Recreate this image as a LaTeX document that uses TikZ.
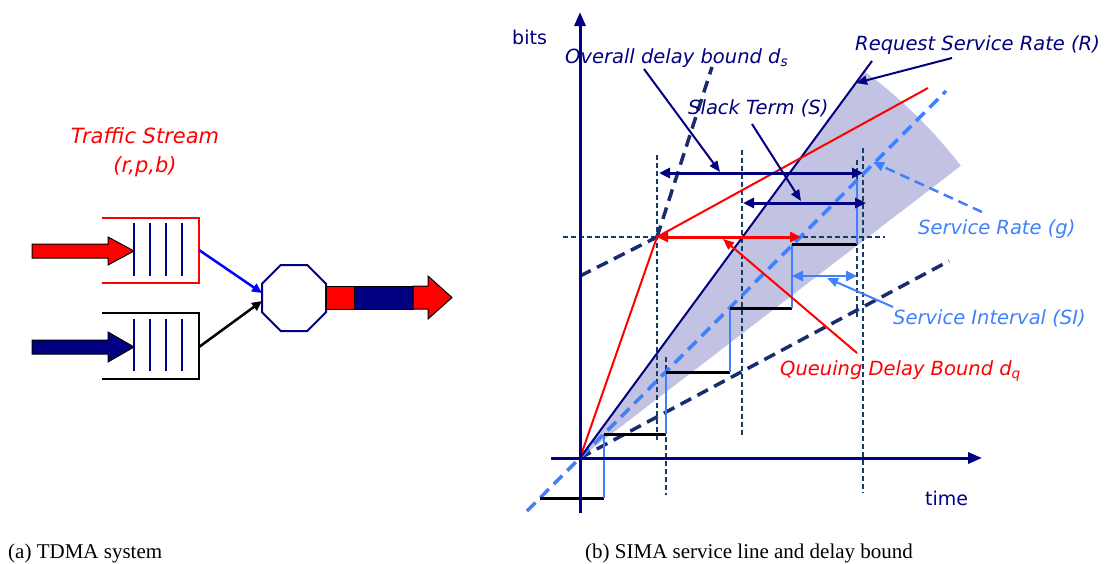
\documentclass[tikz,border=0pt]{standalone}
\usepackage{fontspec}
\setmainfont{Liberation Serif}
\newfontfamily\comic{DejaVu Sans}
\usetikzlibrary{arrows.meta}
\definecolor{navy}{RGB}{0,0,128}
\definecolor{lblue}{RGB}{64,128,255}
\definecolor{dnavy}{RGB}{25,45,110}
\definecolor{vdash}{RGB}{20,60,100}
\definecolor{shadecol}{RGB}{194,194,226}
\begin{document}
\begin{tikzpicture}[x=1pt,y=-1pt,
 axis/.style={navy, line width=3pt, -{Triangle[length=14pt,width=11pt]}},
 rline/.style={red, line width=2pt},
 Rline/.style={navy, line width=2pt},
 thickdash/.style={line width=3.5pt, dash pattern=on 12pt off 7pt},
 guide/.style={vdash, line width=1.4pt, dash pattern=on 5pt off 3pt},
 tread/.style={black, line width=3pt},
 riser/.style={lblue, line width=2pt},
 dbl/.style={line width=3pt, {Triangle[length=11pt,width=10pt]}-{Triangle[length=11pt,width=10pt]}},
 ptr/.style={line width=2pt, -{Triangle[length=11pt,width=9pt]}},
 lbl/.style={font=\comic\itshape\fontsize{19.5}{22}\selectfont, inner sep=0pt, anchor=base west},
 captext/.style={font=\fontsize{21}{24}\selectfont, inner sep=0pt, anchor=base west},
 qline/.style={navy, line width=1.5pt},
 conn/.style={line width=2.5pt, -{Triangle[length=10pt,width=9pt]}},
 block/.style={draw=black, line width=1pt}
]
\useasboundingbox (0,0) rectangle (1108,563);

% ---------------- left: TDMA system ----------------
\node[font=\comic\itshape\fontsize{21}{29}\selectfont, text=red, align=center] (ts) at (145,152) {Traffic Stream\\(r,p,b)};

% queue 1 (red)
\draw[red, line width=1.5pt] (102,218) -- (199,218) -- (199,283) -- (102,283);
\foreach \x in {134,150,166,182} \draw[qline] (\x,223) -- (\x,276);
% queue 2 (black)
\draw[black, line width=1.5pt] (102,313) -- (199,313) -- (199,379) -- (102,379);
\foreach \x in {134,150,166,182} \draw[qline] (\x,319) -- (\x,371);

% input block arrows
\filldraw[block, fill=red] (32,244) -- (108,244) -- (108,237) -- (134,251) -- (108,265) -- (108,258) -- (32,258) -- cycle;
\filldraw[block, fill=navy] (32,340) -- (108,340) -- (108,332) -- (134,347) -- (108,362) -- (108,354) -- (32,354) -- cycle;

% octagon
\draw[navy, line width=2pt] (280.7,265) -- (307.3,265) -- (326,283.7) -- (326,312.3) -- (307.3,331) -- (280.7,331) -- (262,312.3) -- (262,283.7) -- cycle;
\coordinate (oct1) at (262,293);
\coordinate (oct2) at (262,301);
\coordinate (q1) at (199,250);
\coordinate (q2) at (199,347);
\draw[conn, blue] (q1) -- (oct1);
\draw[conn, black] (q2) -- (oct2);

% output
\filldraw[block, fill=red] (326,286) rectangle (354,309);
\filldraw[block, fill=navy] (354,286) rectangle (413,309);
\filldraw[block, fill=red] (413,286) -- (428,286) -- (428,276) -- (452,297.5) -- (428,319) -- (428,309) -- (413,309) -- cycle;

\node[captext] (capa) at (8,558) {(a) TDMA system};

% ---------------- right: SIMA ----------------
\coordinate (O) at (580,458);
\coordinate (knee) at (657,237);

% shaded sector
\fill[shadecol] (O) -- ++(-37.5:480) arc[start angle=-37.5, end angle=-53.7, radius=480] -- cycle;

% guide dashed lines
\draw[guide] (657,155) -- (657,441);
\draw[guide] (666,357) -- (666,495);
\draw[guide] (742,150) -- (742,437);
\draw[guide] (857,160) -- (857,317);
\draw[guide] (863,148) -- (863,493);
\draw[guide] (563,237) -- (885,237);

% thick dashed lines
\draw[thickdash, dnavy] (580,276) -- (665,233);
\draw[thickdash, dnavy] (knee) -- (712,67);
\draw[thickdash, dnavy] (O) -- (949,261);
\draw[thickdash, lblue] (527,511) -- (946,91);

% rate lines
\draw[Rline] (O) -- (872,61);
\draw[rline] (O) -- (knee) -- (928,88);

% staircase
\draw[tread] (540,498) -- (604,498);
\draw[riser] (604,498) -- (604,434);
\draw[tread] (604,434) -- (666,434);
\draw[riser] (666,434) -- (666,372);
\draw[tread] (666,372) -- (730,372);
\draw[riser] (730,372) -- (730,308);
\draw[tread] (730,308) -- (792,308);
\draw[riser] (792,308) -- (792,244);
\draw[tread] (792,244) -- (857,244);
\draw[riser] (857,244) -- (857,181);

% double arrows
\draw[dbl, navy] (659,173) -- (863,173);
\draw[dbl, navy] (743,203) -- (866,203);
\draw[dbl, red] (knee) -- (801,237);
\draw[dbl, lblue, line width=2.5pt] (792,276) -- (857,276);

% axes
\draw[axis] (580,513) -- (580,12);
\draw[axis] (551,458) -- (982,458);
\node[font=\comic\fontsize{19}{22}\selectfont, text=navy, inner sep=0pt, anchor=base west] (bits) at (512,44) {bits};
\node[font=\comic\fontsize{19}{22}\selectfont, text=navy, inner sep=0pt, anchor=base west] (time) at (925,505) {time};

% labels
\node[lbl, text=navy] (lds) at (565,63) {Overall delay bound d\textsubscript{s}};
\node[lbl, text=navy] (lst) at (688,114) {Slack Term (S)};
\node[lbl, text=navy] (lR) at (855,50) {Request Service Rate (R)};
\node[lbl, text=lblue] (lg) at (918,234) {Service Rate (g)};
\node[lbl, text=lblue] (lsi) at (893,324) {Service Interval (SI)};
\node[lbl, text=red] (ldq) at (780,375) {Queuing Delay Bound d\textsubscript{q}};

% pointers
\coordinate (pds) at (720,172);
\coordinate (pst) at (801,201);
\coordinate (pR) at (856,83);
\coordinate (pg) at (873,162);
\coordinate (psi) at (827,278);
\coordinate (pdq) at (723,239);
\draw[ptr, navy] (644,69) -- (pds);
\draw[ptr, navy] (752,124) -- (pst);
\draw[ptr, navy] (952,58) -- (pR);
\draw[ptr, lblue, line width=2.5pt, dash pattern=on 10pt off 6pt] (982,212) -- (pg);
\draw[ptr, lblue] (893,307) -- (psi);
\draw[ptr, red] (857,353) -- (pdq);

\node[captext] (capb) at (585,558) {(b) SIMA service line and delay bound};
\end{tikzpicture}
\end{document}
